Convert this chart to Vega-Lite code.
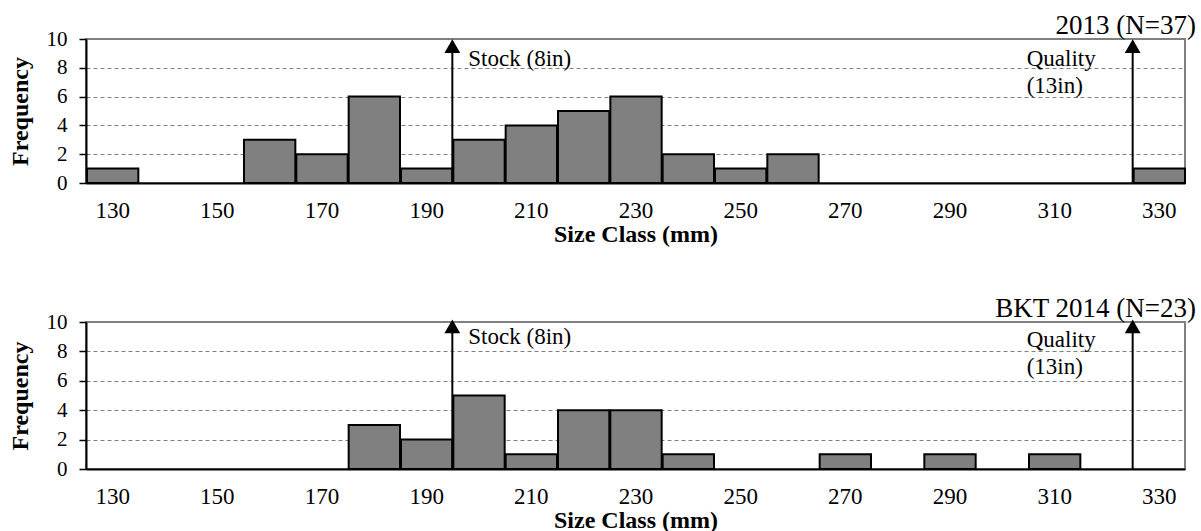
{
  "$schema": "https://vega.github.io/schema/vega-lite/v6.json",
  "background": "white",
  "padding": {"left": 7, "top": 11, "right": 0, "bottom": 0},
  "spacing": 47,
  "config": {
    "font": "Liberation Serif",
    "text": {"font": "Liberation Serif"},
    "view": {"stroke": "#808080", "strokeWidth": 2},
    "axis": {
      "domainColor": "black",
      "domainWidth": 2,
      "tickColor": "black",
      "tickWidth": 1.5,
      "tickSize": 7,
      "labelColor": "black",
      "labelFont": "Liberation Serif",
      "titleFont": "Liberation Serif",
      "titleColor": "black",
      "titleFontWeight": "bold",
      "titleFontSize": 24
    },
    "axisX": {
      "values": [125, 130, 135, 140, 145, 150, 155, 160, 165, 170, 175, 180, 185, 190, 195, 200, 205, 210, 215, 220, 225, 230, 235, 240, 245, 250, 255, 260, 265, 270, 275, 280, 285, 290, 295, 300, 305, 310, 315, 320, 325, 330, 335],
      "tickOpacity": {"condition": {"test": "datum.value % 10 == 5", "value": 1}, "value": 0},
      "labelExpr": "datum.value % 20 == 10 ? datum.label : ''",
      "labelFontSize": 23,
      "labelPadding": 9,
      "labelOverlap": false,
      "labelFlush": false,
      "grid": false,
      "titlePadding": 0
    },
    "axisY": {
      "values": [0, 2, 4, 6, 8, 10],
      "labelFontSize": 21,
      "labelPadding": 12,
      "grid": true,
      "gridColor": "#808080",
      "gridDash": [4, 3],
      "gridWidth": 1,
      "titlePadding": 14
    },
    "title": {
      "anchor": "end",
      "frame": "group",
      "dx": 11,
      "fontSize": 27,
      "fontWeight": "normal",
      "font": "Liberation Serif",
      "color": "black",
      "baseline": "alphabetic",
      "offset": -12
    }
  },
  "datasets": {
    "y2013": [
      {"lo": 125, "hi": 135, "n": 1},
      {"lo": 155, "hi": 165, "n": 3},
      {"lo": 165, "hi": 175, "n": 2},
      {"lo": 175, "hi": 185, "n": 6},
      {"lo": 185, "hi": 195, "n": 1},
      {"lo": 195, "hi": 205, "n": 3},
      {"lo": 205, "hi": 215, "n": 4},
      {"lo": 215, "hi": 225, "n": 5},
      {"lo": 225, "hi": 235, "n": 6},
      {"lo": 235, "hi": 245, "n": 2},
      {"lo": 245, "hi": 255, "n": 1},
      {"lo": 255, "hi": 265, "n": 2},
      {"lo": 325, "hi": 335, "n": 1}
    ],
    "y2014": [
      {"lo": 175, "hi": 185, "n": 3},
      {"lo": 185, "hi": 195, "n": 2},
      {"lo": 195, "hi": 205, "n": 5},
      {"lo": 205, "hi": 215, "n": 1},
      {"lo": 215, "hi": 225, "n": 4},
      {"lo": 225, "hi": 235, "n": 4},
      {"lo": 235, "hi": 245, "n": 1},
      {"lo": 265, "hi": 275, "n": 1},
      {"lo": 285, "hi": 295, "n": 1},
      {"lo": 305, "hi": 315, "n": 1}
    ]
  },
  "vconcat": [
    {
      "title": {"text": "2013 (N=37)"},
      "width": 1099,
      "height": 144,
      "layer": [
        {
          "data": {"name": "y2013"},
          "mark": {"type": "bar", "fill": "#808080", "stroke": "black", "strokeWidth": 2},
          "encoding": {
            "x": {"field": "lo", "type": "quantitative", "bin": "binned", "scale": {"domain": [125, 335], "nice": false, "zero": false}, "title": "Size Class (mm)"},
            "x2": {"field": "hi"},
            "y": {"field": "n", "type": "quantitative", "scale": {"domain": [0, 10], "nice": false}, "title": "Frequency"}
          }
        },
        {
          "data": {"values": [{}]},
          "mark": {"type": "rule", "color": "black", "strokeWidth": 2},
          "encoding": {"x": {"datum": 195}, "y": {"datum": 0}, "y2": {"datum": 9.4}}
        },
        {
          "data": {"values": [{}]},
          "mark": {"type": "rule", "color": "black", "strokeWidth": 2},
          "encoding": {"x": {"datum": 325}, "y": {"datum": 0}, "y2": {"datum": 9.4}}
        },
        {
          "data": {"values": [{"at": 195}, {"at": 325}]},
          "mark": {"type": "point", "shape": "triangle-up", "filled": true, "color": "black", "opacity": 1, "size": 250},
          "encoding": {"x": {"field": "at", "type": "quantitative"}, "y": {"datum": 9.5}}
        },
        {
          "data": {"values": [{}]},
          "mark": {"type": "text", "text": "Stock (8in)", "font": "Liberation Serif", "align": "left", "baseline": "alphabetic", "dx": 16, "fontSize": 23, "color": "black"},
          "encoding": {"x": {"datum": 195}, "y": {"datum": 8.1}}
        },
        {
          "data": {"values": [{}]},
          "mark": {"type": "text", "text": ["Quality", "(13in)"], "font": "Liberation Serif", "align": "left", "baseline": "alphabetic", "dx": -106, "fontSize": 23, "lineHeight": 27, "color": "black"},
          "encoding": {"x": {"datum": 325}, "y": {"datum": 8.1}}
        }
      ]
    },
    {
      "title": {"text": "BKT 2014 (N=23)"},
      "width": 1099,
      "height": 147,
      "layer": [
        {
          "data": {"name": "y2014"},
          "mark": {"type": "bar", "fill": "#808080", "stroke": "black", "strokeWidth": 2},
          "encoding": {
            "x": {"field": "lo", "type": "quantitative", "bin": "binned", "scale": {"domain": [125, 335], "nice": false, "zero": false}, "title": "Size Class (mm)"},
            "x2": {"field": "hi"},
            "y": {"field": "n", "type": "quantitative", "scale": {"domain": [0, 10], "nice": false}, "title": "Frequency"}
          }
        },
        {
          "data": {"values": [{}]},
          "mark": {"type": "rule", "color": "black", "strokeWidth": 2},
          "encoding": {"x": {"datum": 195}, "y": {"datum": 0}, "y2": {"datum": 9.6}}
        },
        {
          "data": {"values": [{}]},
          "mark": {"type": "rule", "color": "black", "strokeWidth": 2},
          "encoding": {"x": {"datum": 325}, "y": {"datum": 0}, "y2": {"datum": 9.6}}
        },
        {
          "data": {"values": [{"at": 195}, {"at": 325}]},
          "mark": {"type": "point", "shape": "triangle-up", "filled": true, "color": "black", "opacity": 1, "size": 250},
          "encoding": {"x": {"field": "at", "type": "quantitative"}, "y": {"datum": 9.7}}
        },
        {
          "data": {"values": [{}]},
          "mark": {"type": "text", "text": "Stock (8in)", "font": "Liberation Serif", "align": "left", "baseline": "alphabetic", "dx": 16, "fontSize": 23, "color": "black"},
          "encoding": {"x": {"datum": 195}, "y": {"datum": 8.5}}
        },
        {
          "data": {"values": [{}]},
          "mark": {"type": "text", "text": ["Quality", "(13in)"], "font": "Liberation Serif", "align": "left", "baseline": "alphabetic", "dx": -106, "fontSize": 23, "lineHeight": 27, "color": "black"},
          "encoding": {"x": {"datum": 325}, "y": {"datum": 8.3}}
        }
      ]
    }
  ]
}
